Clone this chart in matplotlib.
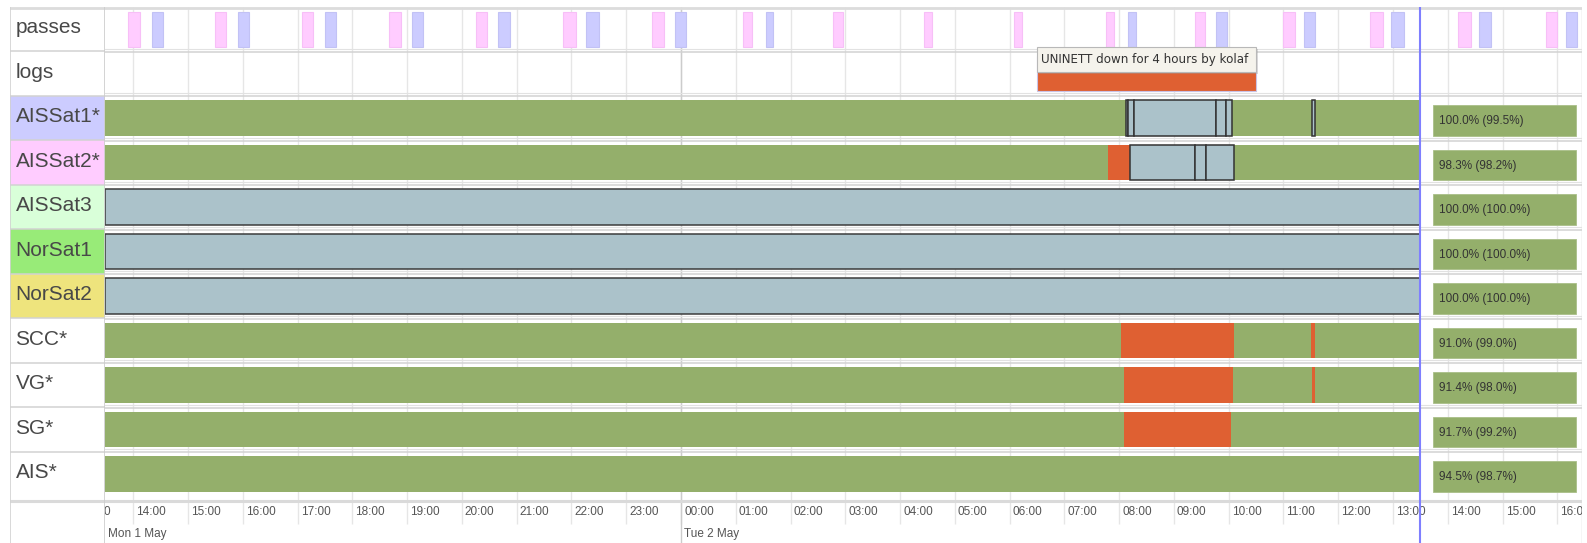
# %% libraries
import matplotlib
matplotlib.use('Agg')
import matplotlib.pyplot as plt
import matplotlib.dates as mdates
import matplotlib.transforms as mtrans
from matplotlib.patches import Rectangle
import pandas as pd

# %% data
rows = ['passes', 'logs', 'AISSat1*', 'AISSat2*', 'AISSat3', 'NorSat1',
        'NorSat2', 'SCC*', 'VG*', 'SG*', 'AIS*']
label_colors = ['white', 'white', '#ccccff', '#ffccff', '#d9ffd9',
                '#98eb78', '#eee47d', 'white', 'white', 'white', 'white']

day1, day2 = '2017-05-01', '2017-05-02'
view_start = '2017-05-01 13:29'
view_end = '2017-05-02 16:27'
now = '2017-05-02 13:30'

# passes (pink = AISSat2, lavender = AISSat1)
pink_mon = [('13:54', '14:07'), ('15:29', '15:42'), ('17:05', '17:17'),
            ('18:40', '18:53'), ('20:15', '20:28'), ('21:51', '22:05'),
            ('23:28', '23:41')]
pink_tue = [('01:08', '01:18'), ('02:46', '02:57'), ('04:26', '04:35'),
            ('06:05', '06:13'), ('07:46', '07:54'), ('09:23', '09:34'),
            ('10:59', '11:13'), ('12:35', '12:49'), ('14:11', '14:25'),
            ('15:48', '16:00')]
lav_mon = [('14:20', '14:33'), ('15:55', '16:07'), ('17:30', '17:42'),
           ('19:05', '19:17'), ('20:40', '20:53'), ('22:16', '22:30'),
           ('23:53', '00:06')]
lav_tue = [('01:33', '01:41'), ('08:10', '08:18'), ('09:46', '09:58'),
           ('11:22', '11:35'), ('12:58', '13:12'), ('14:34', '14:47'),
           ('16:10', '16:22')]

# log entry
log_span = ('06:30', '10:30')
log_text = 'UNINETT down for 4 hours by kolaf'

# status rows (index 2..10); base state over the whole day
base_state = ['ok', 'ok', 'unknown', 'unknown', 'unknown',
              'ok', 'ok', 'ok', 'ok']
aissat1_unknown = [('08:08', '08:10'), ('08:10', '08:16'), ('08:16', '09:46'),
                   ('09:46', '09:57'), ('09:57', '10:04'), ('11:31', '11:35')]
aissat2_down = [('07:48', '08:12')]
aissat2_unknown = [('08:12', '09:23'), ('09:23', '09:35'), ('09:35', '10:06')]
scc_down = [('08:02', '10:06'), ('11:30', '11:35')]
scc_faint = [('10:59', '11:00')]
vg_down = [('08:05', '10:05'), ('11:31', '11:35')]
sg_down = [('08:05', '10:03')]
ais_down = [('08:02', '08:27'), ('08:34', '09:26')]
ais_ok_extra = [('07:19', '11:38')]

# availability summary boxes
summary_span = ('13:44', '16:20')
summary = ['100.0% (99.5%)', '98.3% (98.2%)', '100.0% (100.0%)',
           '100.0% (100.0%)', '100.0% (100.0%)', '91.0% (99.0%)',
           '91.4% (98.0%)', '91.7% (99.2%)', '94.5% (98.7%)']

# %% helpers
GREEN, RED, GREY = '#94af6b', '#df6032', '#abc2ca'
W, H, DPI = 1587, 543, 100
ROW_PX = 44.5


def num(s):
    return mdates.date2num(pd.Timestamp(s))


def span(day, a, b):
    t0 = pd.Timestamp(f'{day} {a}')
    t1 = pd.Timestamp(f'{day} {b}')
    if t1 < t0:
        t1 += pd.Timedelta(days=1)
    return mdates.date2num(t0), mdates.date2num(t1)


def box(ax, x0, x1, row, fc, ec='none', lw=0, top=0.1, bot=0.9, z=2, **kw):
    ax.add_patch(Rectangle((x0, row + top), x1 - x0, bot - top, fc=fc,
                           ec=ec, lw=lw, zorder=z, **kw))


# %% figure framework
fig = plt.figure(figsize=(W / DPI, H / DPI), dpi=DPI)


def px_axes(x0, y0, x1, y1):
    return fig.add_axes([x0 / W, 1 - y1 / H, (x1 - x0) / W, (y1 - y0) / H])


ax = px_axes(105, 6.7, 1582, 543)
lab = px_axes(10, 6.7, 105, 543)
ymax = (543 - 6.7) / ROW_PX
for a in (ax, lab):
    a.set_ylim(ymax, 0)
    a.set_axis_off()
ax.set_xlim(num(view_start), num(view_end))
lab.set_xlim(0, 1)

# grid
hours = pd.date_range(f'{day1} 13:00', f'{day2} 16:00', freq='h')
hnum = mdates.date2num(hours)
ax.vlines(hnum, 0, 11.62, color='#e6e6e6', lw=1, zorder=0)
midnight = num(f'{day2} 00:00')
ax.vlines(midnight, 0, ymax, color='#cccccc', lw=1, zorder=0)
ax.vlines(num(view_end), 0, ymax, color='#d6d6d6', lw=1, zorder=0)

for b in range(1, 11):
    ax.axhline(b - 0.055, color='#e2e2e2', lw=0.8, zorder=1)
    ax.axhline(b + 0.015, color='#d2d2d2', lw=1.1, zorder=1)
ax.axhline(0.02, color='#dcdcdc', lw=2, zorder=1)
ax.axhline(11.1, color='#dadada', lw=2.2, zorder=1)

# label column
for i, (name, c) in enumerate(zip(rows, label_colors)):
    lab.axhspan(i, i + 1, color=c, lw=0, zorder=0)
    lab.text(0.058, i + 0.47, name, fontsize=15, color='#484848',
             family='Liberation Sans', va='center', ha='left')
for b in range(1, 11):
    lab.axhline(b, color='#d2d2d2', lw=1.1)
lab.axhline(0.02, color='#dcdcdc', lw=2)
lab.axhline(11.1, color='#dadada', lw=2.2)
lab.vlines([0.005], 0, ymax, color='#d2d2d2', lw=1.2)
lab.vlines([0.995], 0, ymax, color='#cccccc', lw=1.2)

# passes row
for day, items, fc, ec in [(day1, pink_mon, '#ffccff', '#f7bff7'),
                           (day2, pink_tue, '#ffccff', '#f7bff7'),
                           (day1, lav_mon, '#ccccff', '#c2c2f5'),
                           (day2, lav_tue, '#ccccff', '#c2c2f5')]:
    for a, b in items:
        x0, x1 = span(day, a, b)
        box(ax, x0, x1, 0, fc, ec=ec, lw=0.8, top=0.11, bot=0.9)

# logs row + tooltip
x0, x1 = span(day2, *log_span)
box(ax, x0, x1, 1, RED, ec='#c9c3e6', lw=0.8, top=0.1, bot=0.9)
shadow = mtrans.offset_copy(ax.transData, fig=fig, x=2, y=-2, units='dots')
ax.add_patch(Rectangle((x0, 0.9), x1 - x0, 0.56, fc='#999999', alpha=0.35,
                       lw=0, zorder=4, transform=shadow))
ax.add_patch(Rectangle((x0, 0.9), x1 - x0, 0.56, fc='#f5f3ec', ec='#b8b8b8',
                       lw=0.8, zorder=5))
tip = mtrans.offset_copy(ax.transData, fig=fig, x=4, y=0, units='dots')
ax.text(x0, 1.19, log_text, transform=tip, fontsize=8.6, color='#333333',
        family='DejaVu Sans', va='center', ha='left', zorder=6)

# status rows
t_start, t_now = num(view_start), num(now)
for i, state in enumerate(base_state):
    r = i + 2
    if state == 'ok':
        box(ax, t_start, t_now, r, GREEN)
    else:
        box(ax, t_start, t_now, r, GREY, ec='#3c3c3c', lw=1.1)

for a, b in ais_down:
    x0, x1 = span(day2, a, b)
    box(ax, x0, x1, 10, '#e58a62', top=0.09, bot=0.91, z=1.5)
for a, b in ais_ok_extra:
    x0, x1 = span(day2, a, b)
    box(ax, x0, x1, 10, GREEN, top=0.088, bot=0.9, z=2.1)

for r, segs, fc, ec, lw in [(2, aissat1_unknown, GREY, '#333333', 1.1),
                            (3, aissat2_down, RED, 'none', 0),
                            (3, aissat2_unknown, GREY, '#333333', 1.1),
                            (7, scc_down, RED, 'none', 0),
                            (7, scc_faint, '#b88a5a', 'none', 0),
                            (8, vg_down, RED, 'none', 0),
                            (9, sg_down, RED, 'none', 0)]:
    for a, b in segs:
        x0, x1 = span(day2, a, b)
        box(ax, x0, x1, r, fc, ec=ec, lw=lw, z=3)

# summary boxes
s0, s1 = span(day2, *summary_span)
txt = mtrans.offset_copy(ax.transData, fig=fig, x=6, y=0, units='dots')
for i, s in enumerate(summary):
    r = i + 2
    box(ax, s0, s1, r, GREEN, ec='#a9bf88', lw=0.6, top=0.22, bot=0.9)
    ax.text(s0, r + 0.57, s, transform=txt, fontsize=8.5, color='#333333',
            family='Liberation Sans', va='center', ha='left', zorder=4)

# now line
ax.axvline(t_now, color='#7f7fff', lw=1.5, zorder=7)

# time axis labels
lbl = mtrans.offset_copy(ax.transData, fig=fig, x=3, y=0, units='dots')
for h, hn in zip(hours, hnum):
    ax.text(hn, 11.35, f'{h:%H:%M}', transform=lbl, fontsize=8.5,
            color='#555555', family='Liberation Sans', va='center',
            ha='left', clip_on=True)
for d in [pd.Timestamp(view_start), pd.Timestamp(f'{day2} 00:00')]:
    ax.text(max(mdates.date2num(d), t_start), 11.86,
            f'{d:%a} {d.day} {d:%b}', transform=lbl, fontsize=8.5,
            color='#555555', family='Liberation Sans', va='center',
            ha='left', clip_on=True)

# save plot to file
fig.savefig('out.png', dpi=DPI)
